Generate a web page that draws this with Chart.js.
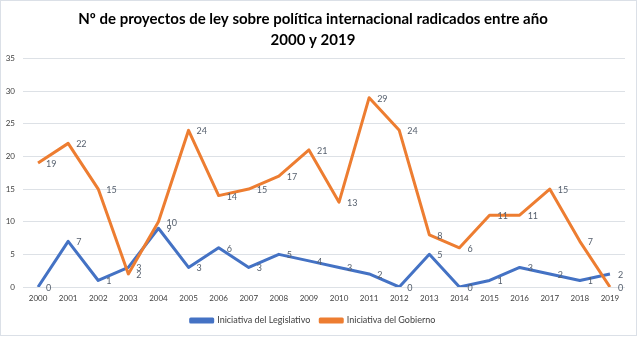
<!DOCTYPE html>
<html>
<head>
<meta charset="utf-8">
<script src="https://cdn.jsdelivr.net/npm/chart.js@4/dist/chart.umd.min.js"></script>
<style>
  html, body { margin: 0; padding: 0; background: #ffffff; }
  #frame {
    width: 637px; height: 336px; box-sizing: border-box;
    border: 1px solid #dbe0e7; background: #ffffff;
  }
  #frame canvas { display: block; }
</style>
</head>
<body>
<div id="frame"><canvas id="chart" width="635" height="334"></canvas></div>
<script>
// Años y número de proyectos por tipo de iniciativa
const years = ['2000','2001','2002','2003','2004','2005','2006','2007','2008','2009',
               '2010','2011','2012','2013','2014','2015','2016','2017','2018','2019'];
const legislativo = [0, 7, 1, 3, 9, 3, 6, 3, 5, 4, 3, 2, 0, 5, 0, 1, 3, 2, 1, 2];
const gobierno    = [19, 22, 15, 2, 10, 24, 14, 15, 17, 21, 13, 29, 24, 8, 6, 11, 11, 15, 7, 0];
const yTicks = [0, 5, 10, 15, 20, 25, 30, 35];

const FONT = 'Lato, "Open Sans", "Liberation Sans", sans-serif';

// Etiqueta de valor junto a cada punto de las series
const valueLabels = {
  id: 'valueLabels',
  afterDatasetsDraw(chart) {
    const ctx = chart.ctx;
    ctx.save();
    ctx.font = '9px ' + FONT;
    ctx.fillStyle = '#56606e';
    ctx.textAlign = 'left';
    ctx.textBaseline = 'middle';
    chart.data.datasets.forEach((ds, i) => {
      const meta = chart.getDatasetMeta(i);
      meta.data.forEach((pt, j) => {
        ctx.fillText(String(ds.data[j]), pt.x + 8, pt.y + 1);
      });
    });
    ctx.restore();
  }
};

new Chart(document.getElementById('chart'), {
  type: 'line',
  data: {
    labels: years,
    datasets: [
      {
        label: 'Iniciativa del Legislativo',
        data: legislativo,
        borderColor: '#4472c4',
        backgroundColor: '#4472c4',
        borderWidth: 3,
        pointRadius: 0,
        tension: 0,
        borderJoinStyle: 'round',
        order: 2
      },
      {
        label: 'Iniciativa del Gobierno',
        data: gobierno,
        borderColor: '#ed7d31',
        backgroundColor: '#ed7d31',
        borderWidth: 3,
        pointRadius: 0,
        tension: 0,
        borderJoinStyle: 'round',
        order: 1
      }
    ]
  },
  options: {
    responsive: false,
    animation: false,
    layout: { padding: { left: 0, right: 11, top: 0, bottom: 0 } },
    plugins: {
      title: {
        display: true,
        text: ['Nº de proyectos de ley sobre política internacional radicados entre año', '2000 y 2019'],
        color: '#000000',
        font: { family: FONT, size: 15, weight: 'bold', lineHeight: 1.45 },
        padding: { top: 7, bottom: 7 }
      },
      legend: {
        position: 'bottom',
        labels: {
          color: '#404040',
          font: { family: FONT, size: 9 },
          boxWidth: 22,
          boxHeight: 3,
          padding: 10,
          sort: (a, b) => a.datasetIndex - b.datasetIndex
        }
      },
      tooltip: { enabled: false }
    },
    scales: {
      x: {
        type: 'category',
        offset: true,
        afterFit(scale) { scale.height = 19; },
        grid: { display: false, drawTicks: false },
        border: { display: false },
        ticks: {
          color: '#404040',
          font: { family: FONT, size: 8 },
          padding: 7,
          maxRotation: 0,
          autoSkip: false
        }
      },
      y: {
        min: 0,
        max: 35,
        afterBuildTicks(scale) { scale.ticks = yTicks.map(v => ({ value: v })); },
        afterFit(scale) { scale.width = 22; },
        grid: { color: '#dde1e6', lineWidth: 1, drawTicks: false },
        border: { display: false },
        ticks: {
          color: '#404040',
          font: { family: FONT, size: 8 },
          padding: 8
        }
      }
    }
  },
  plugins: [valueLabels]
});
</script>
</body>
</html>
